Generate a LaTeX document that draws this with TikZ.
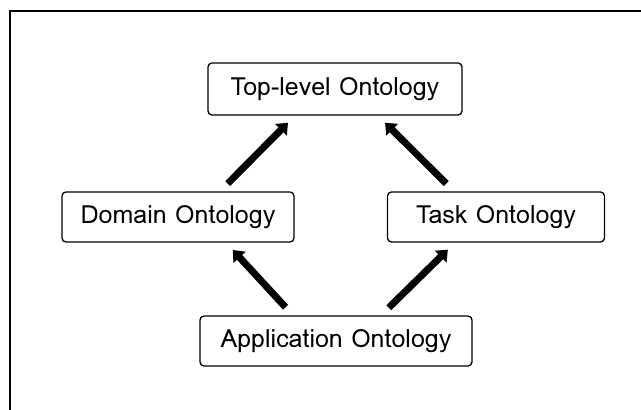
\documentclass[tikz,border=0pt]{standalone}
\usepackage{fontspec}
\setmainfont{Loma}
\usepackage{xcolor}
\usetikzlibrary{arrows.meta,positioning}

\begin{document}
\begin{tikzpicture}[x=1pt,y=-1pt,
  box/.style={rectangle,draw,line width=1.3pt,rounded corners=4pt,
              minimum height=50pt,text centered,font=\fontsize{25}{30}\selectfont},
  arr/.style={-{Triangle[length=10pt,width=16pt]},line width=7pt,
              shorten <=11pt,shorten >=10pt}]
  \useasboundingbox (0,0) rectangle (641,410);
  \draw[line width=1.6pt](10,412)--(10,11)--(643,11);
  \node[box,minimum width=254pt,minimum height=52pt] at (335,89)(top){Top-level Ontology};
  \node[box,minimum width=232pt] at (178,217)(dom){Domain Ontology};
  \node[box,minimum width=217pt] at (496,217)(task){Task Ontology};
  \node[box,minimum width=272pt] at (336,341)(app){Application Ontology};
  \draw[arr]([xshift=-43pt]app.north)--([xshift=48pt]dom.south);
  \draw[arr]([xshift=45pt]app.north)--([xshift=-41pt]task.south);
  \draw[arr]([xshift=42pt]dom.north)--([xshift=-40pt]top.south);
  \draw[arr]([xshift=-42pt]task.north)--([xshift=43pt]top.south);
\end{tikzpicture}
\end{document}
